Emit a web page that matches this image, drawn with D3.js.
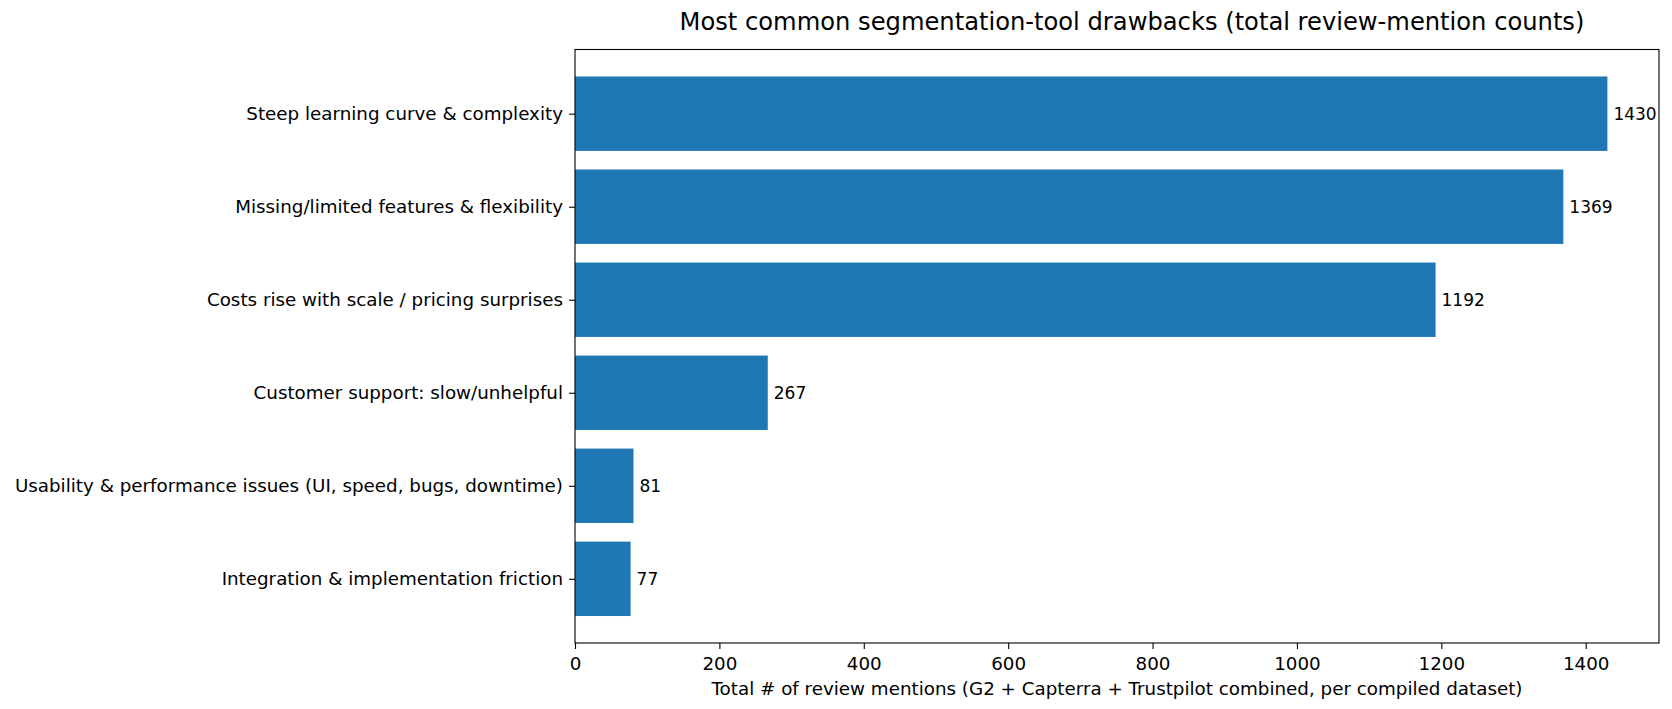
<!DOCTYPE html>
<html>
<head>
<meta charset="utf-8">
<script src="https://cdn.jsdelivr.net/npm/d3@7"></script>
<style>
  html, body { margin: 0; padding: 0; background: #fff; }
  text { font-family: "DejaVu Sans", sans-serif; fill: #000; }
</style>
</head>
<body>
<svg id="chart" width="1672" height="709"></svg>
<script>
const categories = [
  "Steep learning curve & complexity",
  "Missing/limited features & flexibility",
  "Costs rise with scale / pricing surprises",
  "Customer support: slow/unhelpful",
  "Usability & performance issues (UI, speed, bugs, downtime)",
  "Integration & implementation friction"
];
const counts = [1430, 1369, 1192, 267, 81, 77];
const xTicks = [0, 200, 400, 600, 800, 1000, 1200, 1400];
const titleText = "Most common segmentation-tool drawbacks (total review-mention counts)";
const xLabelText = "Total # of review mentions (G2 + Capterra + Trustpilot combined, per compiled dataset)";

const W = 1672, H = 709;
const m = { left: 575, right: 13, top: 49.5, bottom: 66 };
const pw = W - m.left - m.right, ph = H - m.top - m.bottom;
const svg = d3.select("#chart");
const g = svg.append("g").attr("transform", `translate(${m.left},${m.top})`);

const xMax = d3.max(counts) * 1.05;
const x = d3.scaleLinear().domain([0, xMax]).range([0, pw]);
const n = categories.length;
const lo = -0.4, hi = n - 1 + 0.4, pad = (hi - lo) * 0.05;
const y = d3.scaleLinear().domain([lo - pad, hi + pad]).range([0, ph]);

const fs = 18.3;

g.selectAll("rect.bar").data(counts).enter().append("rect")
  .attr("class", "bar")
  .attr("x", x(0))
  .attr("y", (d, i) => y(i - 0.4))
  .attr("width", d => x(d) - x(0))
  .attr("height", (d, i) => y(i + 0.4) - y(i - 0.4))
  .attr("fill", "#1f77b4");

g.selectAll("text.val").data(counts).enter().append("text")
  .attr("class", "val")
  .attr("x", d => x(d) + 6)
  .attr("y", (d, i) => y(i))
  .attr("dy", "0.36em")
  .attr("font-size", 17)
  .text(d => d);

// x axis
const xAxis = d3.axisBottom(x).tickValues(xTicks).tickSize(6).tickPadding(8).tickFormat(d3.format("d"));
const xg = g.append("g").attr("transform", `translate(0,${ph})`).call(xAxis);
xg.select(".domain").remove();
xg.selectAll("text").attr("font-size", fs).attr("font-family", "DejaVu Sans").attr("fill", "#000").attr("dy", "0.71em");
xg.selectAll("line").attr("stroke", "#000").attr("stroke-width", 1.1);

// y axis
const yAxis = d3.axisLeft(y).tickValues(d3.range(n)).tickSize(6).tickPadding(6).tickFormat(i => categories[i]);
const yg = g.append("g").call(yAxis);
yg.select(".domain").remove();
yg.selectAll("text").attr("font-size", fs).attr("font-family", "DejaVu Sans").attr("fill", "#000");
yg.selectAll("line").attr("stroke", "#000").attr("stroke-width", 1.1);

// frame
g.append("rect").attr("x", 0).attr("y", 0).attr("width", pw).attr("height", ph)
  .attr("fill", "none").attr("stroke", "#000").attr("stroke-width", 1.1);

// title
svg.append("text").attr("x", m.left + pw / 2 + 15).attr("y", 30)
  .attr("text-anchor", "middle").attr("font-size", 24.2).text(titleText);

// x label
svg.append("text").attr("x", m.left + pw / 2).attr("y", 695)
  .attr("text-anchor", "middle").attr("font-size", fs).text(xLabelText);
</script>
</body>
</html>
